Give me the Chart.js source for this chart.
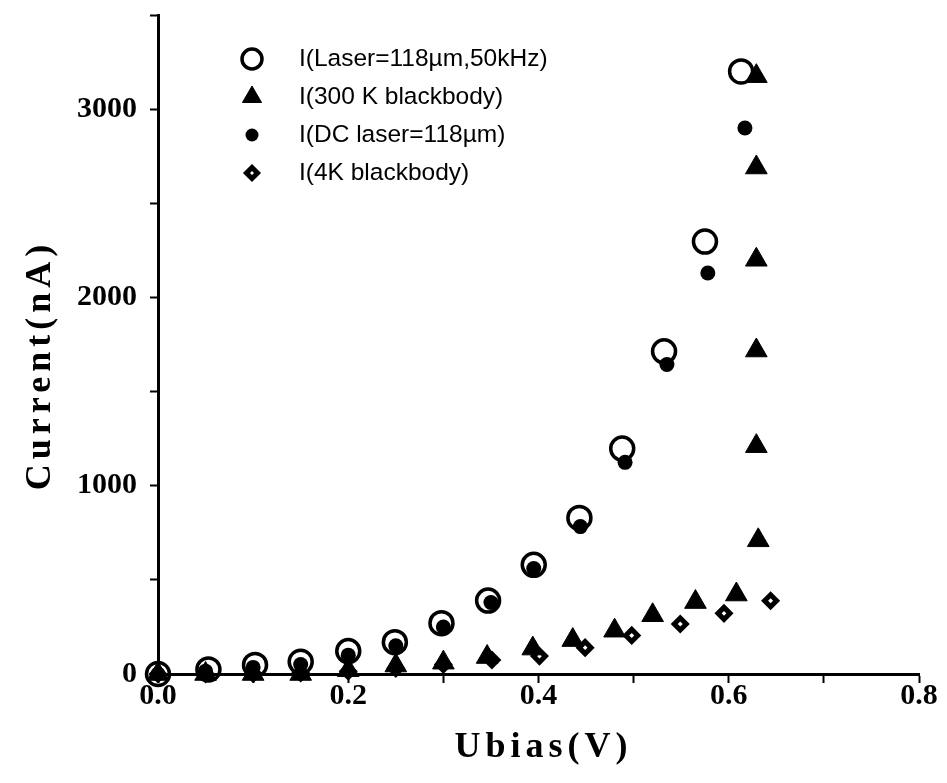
<!DOCTYPE html>
<html>
<head>
<meta charset="utf-8">
<script src="https://cdn.jsdelivr.net/npm/chart.js@4.4.1/dist/chart.umd.min.js"></script>
<style>
  html, body { margin: 0; padding: 0; background: #fff; }
  #wrap { width: 947px; height: 783px; position: relative; }
</style>
</head>
<body>
<div id="wrap"><canvas id="c"></canvas></div>
<script>
/* Photocurrent vs bias */
const laserX = [0, 0.053, 0.102, 0.15, 0.2, 0.249, 0.298, 0.347, 0.395, 0.443, 0.488, 0.532, 0.575, 0.613];
const laserY = [0, 24, 48, 65, 122, 169, 270, 390, 580, 829, 1197, 1714, 2297, 3200];

const bb300X = [0, 0.05, 0.1, 0.15, 0.2, 0.25, 0.3, 0.346, 0.394, 0.436, 0.48, 0.52, 0.565, 0.608, 0.631, 0.629, 0.629, 0.629, 0.629, 0.629];
const bb300Y = [0, 0, 0, 0, 20, 45, 60, 90, 135, 180, 230, 312, 382, 422, 710, 1210, 1718, 2200, 2690, 3175];

const dcX = [0, 0.05, 0.1, 0.15, 0.2, 0.25, 0.3, 0.35, 0.395, 0.444, 0.491, 0.535, 0.578, 0.617];
const dcY = [0, 15, 35, 50, 100, 150, 250, 380, 560, 783, 1124, 1644, 2130, 2900];

const bb4X = [0, 0.05, 0.1, 0.15, 0.2, 0.25, 0.3, 0.351, 0.401, 0.449, 0.498, 0.549, 0.595, 0.644];
const bb4Y = [0, 0, 2, 5, 15, 30, 50, 74, 95, 140, 205, 266, 322, 389];

const legendLabels = ['I(Laser=118\u00b5m,50kHz)', 'I(300 K blackbody)', 'I(DC laser=118\u00b5m)', 'I(4K blackbody)'];

const xTitle = 'Ubias(V)';
const yTitle = 'Current(nA)';

const pts = (xs, ys) => xs.map((x, i) => ({ x: x, y: ys[i] }));

const SERIF = '"Liberation Serif", "Times New Roman", serif';
const SANS = '"Liberation Sans", Arial, Helvetica, sans-serif';

// legend symbol radius kept next to each series' style
const datasets = [
  { label: legendLabels[0], data: pts(laserX, laserY), pointStyle: 'circle', pointRadius: 11.5,
    borderWidth: 3.5, borderColor: '#000', backgroundColor: 'rgba(0,0,0,0)', legendR: 10 },
  { label: legendLabels[1], data: pts(bb300X, bb300Y), pointStyle: 'triangle', pointRadius: 12.5,
    borderWidth: 1, borderColor: '#000', backgroundColor: '#000', legendR: 11 },
  { label: legendLabels[2], data: pts(dcX, dcY), pointStyle: 'circle', pointRadius: 7.5,
    borderWidth: 0, borderColor: '#000', backgroundColor: '#000', legendR: 6.5 },
  { label: legendLabels[3], data: pts(bb4X, bb4Y), pointStyle: 'rectRot', pointRadius: 6,
    borderWidth: 5, borderColor: '#000', backgroundColor: '#fff', legendR: 5.5 }
].map(d => Object.assign(d, { showLine: false, clip: false, pointHoverRadius: d.pointRadius }));

/* axis titles (letter-spaced) and the in-plot legend */
const decor = {
  id: 'decor',
  afterDraw(chart) {
    const ctx = chart.ctx;
    const a = chart.chartArea;
    ctx.save();
    ctx.fillStyle = '#000';
    ctx.font = 'bold 36px ' + SERIF;
    ctx.textAlign = 'center';
    ctx.textBaseline = 'middle';
    if ('letterSpacing' in ctx) ctx.letterSpacing = '5px';
    ctx.fillText(xTitle, (a.left + a.right) / 2 + 5, 748);
    ctx.translate(41, 365);
    ctx.rotate(-Math.PI / 2);
    ctx.fillText(yTitle, 0, 0);
    ctx.restore();

    ctx.save();
    if ('letterSpacing' in ctx) ctx.letterSpacing = '0px';
    ctx.font = '24.5px ' + SANS;
    ctx.textAlign = 'left';
    ctx.textBaseline = 'middle';
    const x0 = 252, y0 = 59, dy = 38;
    chart.data.datasets.forEach((ds, i) => {
      const y = y0 + i * dy;
      ctx.fillStyle = ds.backgroundColor;
      ctx.strokeStyle = ds.borderColor;
      ctx.lineWidth = ds.borderWidth;
      Chart.helpers.drawPoint(ctx, { pointStyle: ds.pointStyle, radius: ds.legendR, borderWidth: ds.borderWidth, rotation: 0 }, x0, y);
      ctx.fillStyle = '#000';
      ctx.fillText(ds.label, x0 + 47, y);
    });
    ctx.restore();
  }
};

new Chart(document.getElementById('c'), {
  type: 'scatter',
  data: { datasets },
  options: {
    responsive: true,
    maintainAspectRatio: false,
    animation: false,
    layout: { padding: { top: 9, right: 28, left: 0, bottom: 0 } },
    plugins: { legend: { display: false }, tooltip: { enabled: false } },
    scales: {
      x: {
        type: 'linear', min: 0, max: 0.8,
        border: { display: true, color: '#000', width: 3 },
        grid: { drawOnChartArea: false, drawTicks: true, tickLength: 9, tickWidth: 2, color: '#000' },
        ticks: {
          stepSize: 0.1, autoSkip: false, maxRotation: 0, padding: -5, color: '#000',
          font: { family: SERIF, size: 30, weight: 'bold' },
          callback: v => Math.round(v * 10) % 2 === 0 ? v.toFixed(1) : ''
        },
        afterFit: s => { s.height = 109; s.paddingLeft = 0; s.paddingRight = 0; }
      },
      y: {
        type: 'linear', min: 0, max: 3500,
        border: { display: true, color: '#000', width: 3 },
        grid: { drawOnChartArea: false, drawTicks: true, tickLength: 8, tickWidth: 2, color: '#000' },
        ticks: {
          stepSize: 500, autoSkip: false, padding: 13, color: '#000',
          font: { family: SERIF, size: 30, weight: 'bold' },
          callback: v => v % 1000 === 0 ? String(v) : ''
        },
        afterFit: s => { s.width = 158; s.paddingTop = 0; s.paddingBottom = 0; }
      }
    }
  },
  plugins: [decor]
});
</script>
</body>
</html>
